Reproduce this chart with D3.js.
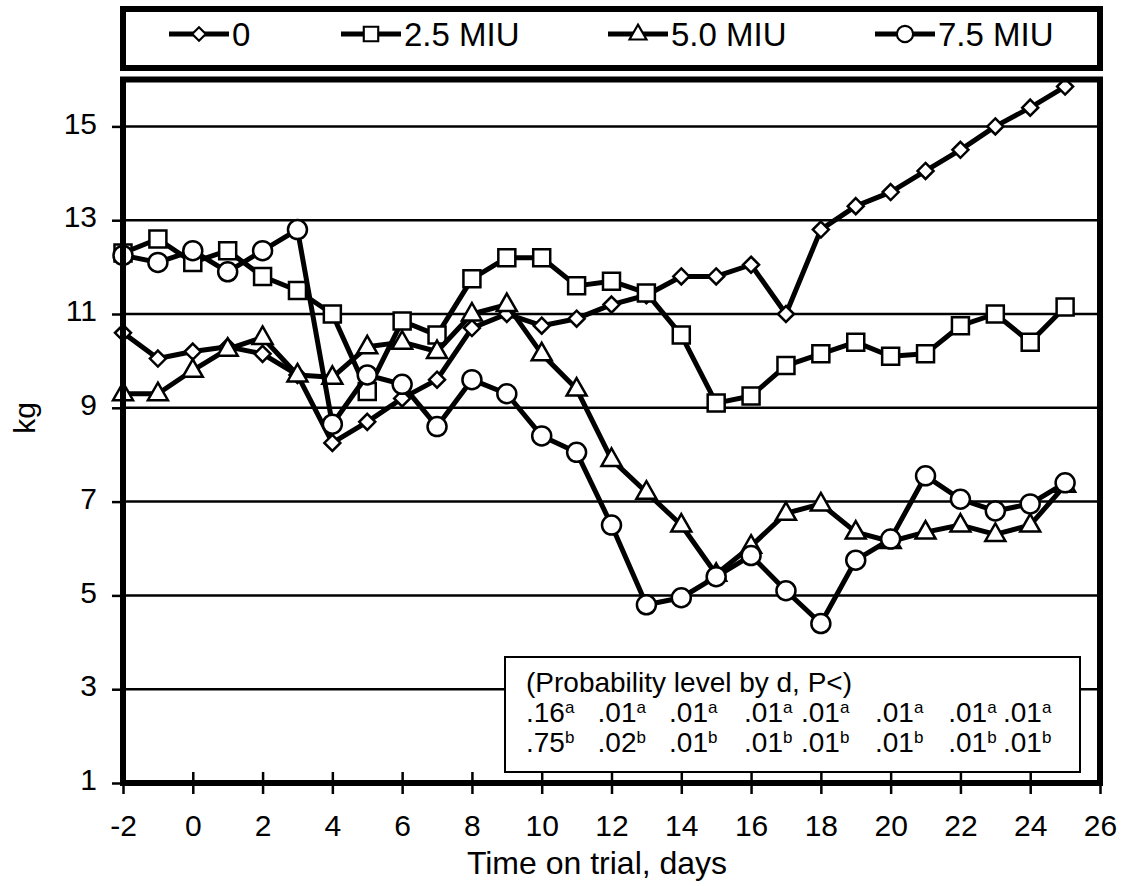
<!DOCTYPE html>
<html>
<head>
<meta charset="utf-8">
<script src="https://cdn.jsdelivr.net/npm/d3@7"></script>
<style>
  body { margin: 0; background: #fff; }
  svg { display: block; font-family: "Liberation Sans", Arial, sans-serif; }
</style>
</head>
<body>
<div id="chart"></div>
<script>
// data, days -2 .. 25
var days = d3.range(-2, 26);
var dose0   = [10.6, 10.05, 10.2, 10.3, 10.15, 9.7, 8.25, 8.7, 9.2, 9.6, 10.7, 11.0, 10.75, 10.9, 11.2, 11.4, 11.8, 11.8, 12.05, 11.0, 12.8, 13.3, 13.6, 14.05, 14.5, 15.0, 15.4, 15.85];
var dose25  = [12.3, 12.6, 12.1, 12.35, 11.8, 11.5, 11.0, 9.35, 10.85, 10.55, 11.75, 12.2, 12.2, 11.6, 11.7, 11.45, 10.55, 9.1, 9.25, 9.9, 10.15, 10.4, 10.1, 10.15, 10.75, 11.0, 10.4, 11.15];
var dose50  = [9.3, 9.3, 9.8, 10.25, 10.5, 9.7, 9.65, 10.3, 10.4, 10.2, 11.0, 11.2, 10.15, 9.4, 7.9, 7.2, 6.5, 5.45, 6.05, 6.75, 6.95, 6.35, 6.15, 6.35, 6.5, 6.3, 6.5, 7.35];
var dose75  = [12.25, 12.1, 12.35, 11.9, 12.35, 12.8, 8.65, 9.7, 9.5, 8.6, 9.6, 9.3, 8.4, 8.05, 6.5, 4.8, 4.95, 5.4, 5.85, 5.1, 4.4, 5.75, 6.2, 7.55, 7.05, 6.8, 6.95, 7.4];
var seriesNames = ["0", "2.5 MIU", "5.0 MIU", "7.5 MIU"];
var seriesMarks = ["diamond", "square", "triangle", "circle"];
var xTicks = d3.range(-2, 27, 2);
var yTicks = [1, 3, 5, 7, 9, 11, 13, 15];
var probA = [".16", ".01", ".01", ".01", ".01", ".01", ".01", ".01"];
var probB = [".75", ".02", ".01", ".01", ".01", ".01", ".01", ".01"];

var W = 1126, H = 886;
var svg = d3.select("#chart").append("svg").attr("width", W).attr("height", H);

var x = d3.scaleLinear().domain([-2, 26]).range([123, 1100]);
var y = d3.scaleLinear().domain([1, 16]).range([783, 79.5]);

// markers
function markPath(type) {
  if (type == "diamond") return "M0,-8L8,0L0,8L-8,0Z";
  if (type == "square") return "M-8.5,-8.5H8.5V8.5H-8.5Z";
  if (type == "triangle") return "M0,-11L10,6.5H-10Z";
  return d3.arc()({innerRadius: 0, outerRadius: 9.5, startAngle: 0, endAngle: 2 * Math.PI});
}

// gridlines
svg.append("g").selectAll("line")
  .data(yTicks.filter(function(d) { return d > 1; }))
  .join("line")
  .attr("x1", x(-2)).attr("x2", x(26))
  .attr("y1", function(d) { return y(d); }).attr("y2", function(d) { return y(d); })
  .attr("stroke", "#000").attr("stroke-width", 2.5);

// axes
var xAxis = d3.axisBottom(x).tickValues(xTicks).tickFormat(function(d) { return String(d); })
  .tickSizeInner(11).tickSizeOuter(0).tickPadding(21);
var yAxis = d3.axisLeft(y).tickValues(yTicks).tickSizeInner(11).tickSizeOuter(0).tickPadding(15);

var gx = svg.append("g").attr("transform", "translate(0," + y(1) + ")").call(xAxis);
gx.selectAll(".tick line").attr("y1", -11).attr("stroke-width", 2.5);
gx.selectAll("text").attr("font-size", 30).attr("fill", "#000").attr("font-family", "Liberation Sans, Arial, sans-serif");
gx.select(".domain").remove();

var gy = svg.append("g").attr("transform", "translate(" + x(-2) + ",0)").call(yAxis);
gy.selectAll(".tick line").attr("stroke-width", 2.5);
gy.selectAll("text").attr("font-size", 30).attr("dy", "0.22em").attr("fill", "#000").attr("font-family", "Liberation Sans, Arial, sans-serif");
gy.select(".domain").remove();

// series
var allSeries = [dose0, dose25, dose50, dose75];
var line = d3.line().x(function(d) { return x(d[0]); }).y(function(d) { return y(d[1]); });

allSeries.forEach(function(vals, i) {
  var pts = days.map(function(d, j) { return [d, vals[j]]; });
  var g = svg.append("g");
  g.append("path").attr("d", line(pts))
    .attr("fill", "none").attr("stroke", "#000").attr("stroke-width", 5)
    .attr("stroke-linejoin", "round");
  g.selectAll("path.mk").data(pts).join("path").attr("class", "mk")
    .attr("transform", function(d) { return "translate(" + x(d[0]) + "," + y(d[1]) + ")"; })
    .attr("d", markPath(seriesMarks[i]))
    .attr("fill", "#fff").attr("stroke", "#000").attr("stroke-width", 2.5);
});

// annotation box
var ann = svg.append("g");
ann.append("rect").attr("x", 505).attr("y", 657).attr("width", 575).attr("height", 115)
  .attr("fill", "#fff").attr("stroke", "#000").attr("stroke-width", 2);
ann.append("text").attr("x", 526).attr("y", 692).attr("font-size", 28)
  .text("(Probability level by d, P<)");
// column starts, in days
var annCols = [9.55, 11.6, 13.65, 15.8, 17.43, 19.55, 21.65, 23.22];
[[probA, "a", 722], [probB, "b", 752]].forEach(function(row) {
  var t = ann.selectAll(null).data(row[0]).join("text")
    .attr("x", function(d, i) { return x(annCols[i]); })
    .attr("y", row[2]).attr("font-size", 28);
  t.append("tspan").text(function(d) { return d; });
  t.append("tspan").attr("dy", -9).attr("font-size", 17).text(row[1]);
});

// plot frame
svg.append("rect").attr("x", x(-2)).attr("y", y(16)).attr("width", x(26) - x(-2)).attr("height", y(1) - y(16))
  .attr("fill", "none").attr("stroke", "#000").attr("stroke-width", 6);

// axis titles
svg.append("text").attr("x", 597).attr("y", 874).attr("text-anchor", "middle")
  .attr("font-size", 32).text("Time on trial, days");
svg.append("text").attr("transform", "translate(35,418) rotate(-90)").attr("text-anchor", "middle")
  .attr("font-size", 30).text("kg");

// legend
var leg = svg.append("g");
leg.append("rect").attr("x", 123).attr("y", 9).attr("width", 977).attr("height", 59)
  .attr("fill", "#fff").attr("stroke", "#000").attr("stroke-width", 6);
var legX = [169, 341, 608, 875];
seriesNames.forEach(function(name, i) {
  var g = leg.append("g").attr("transform", "translate(" + legX[i] + ",34)");
  g.append("line").attr("x1", 0).attr("x2", 60).attr("stroke", "#000").attr("stroke-width", 5);
  g.append("path").attr("transform", "translate(30,0) scale(0.85)").attr("d", markPath(seriesMarks[i]))
    .attr("fill", "#fff").attr("stroke", "#000").attr("stroke-width", 2.5);
  g.append("text").attr("x", 63).attr("y", 12).attr("font-size", 33).text(name);
});
</script>
</body>
</html>
